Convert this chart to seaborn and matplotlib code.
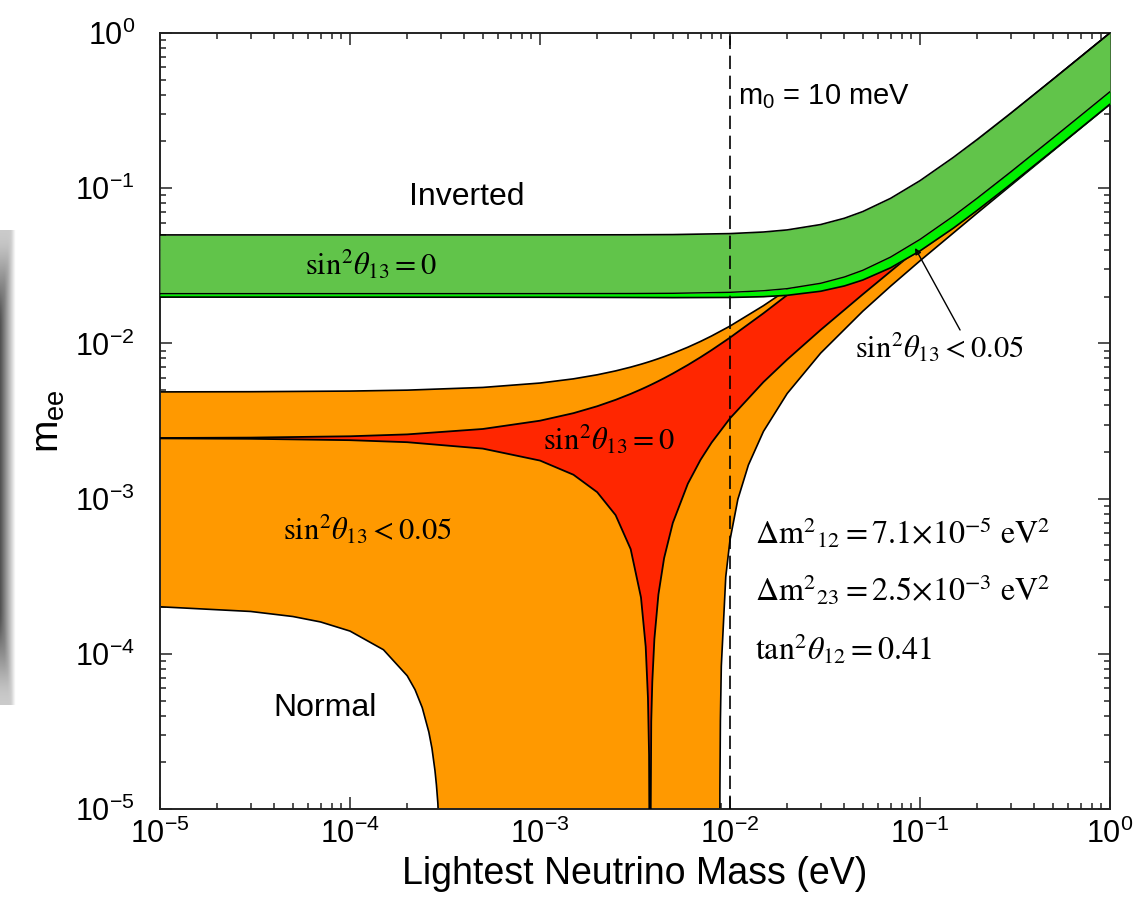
import numpy as np
import matplotlib.pyplot as plt
import seaborn as sns

# Values (eV), log-log plot of m_ee vs lightest mass

# normal ordering, common x grid
m_normal = [1e-5, 3e-5, 1e-4, 2e-4, 5e-4, 1e-3, 1.5e-3, 2e-3, 2.5e-3, 3e-3,
            3.4e-3, 3.6e-3, 3.7e-3, 3.75e-3, 3.79e-3, 3.85e-3, 3.9e-3, 4e-3,
            4.2e-3, 4.5e-3, 5e-3, 6e-3, 7e-3, 8e-3, 1e-2, 1.5e-2, 2e-2, 3e-2,
            5e-2, 0.1, 0.2, 0.5, 1.0]
red_upper = [0.0024573, 0.0024715, 0.0025212, 0.0025926, 0.0028091, 0.0031766,
             0.0035525, 0.0039367, 0.0043288, 0.0047285, 0.0050534, 0.0052176,
             0.0053001, 0.0053415, 0.0053745, 0.0054243, 0.0054659, 0.0055491,
             0.0057164, 0.0059692, 0.0063952, 0.0072631, 0.0081498, 0.0090524,
             0.0108947, 0.0156412, 0.0204952, 0.0303376, 0.050205, 0.1001029,
             0.2000515, 0.500021, 1.00001]
red_lower = [0.0024431, 0.0024289, 0.0023794, 0.0023090, 0.0020999, 0.0017582,
             0.0014249, 0.0010999, 0.0007826, 0.0004731, 0.0002308, 0.0001112,
             0.0000519, 0.0000223, 0.0000013, 0.0000367, 0.0000661, 0.0001247,
             0.000241, 0.0004138, 0.000697, 0.0012475, 0.0017792, 0.0022952,
             0.0032897, 0.0056354, 0.0078736, 0.0122156, 0.020717, 0.0417411,
             0.0836365, 0.209199, 0.41843]
orange_upper = [0.0048697, 0.0048832, 0.0049304, 0.0049983, 0.005204, 0.0055536,
                0.0059113, 0.0062771, 0.0066508, 0.0070318, 0.0073417, 0.0074981,
                0.0075766, 0.007616, 0.0076475, 0.007695, 0.0077346, 0.0078148,
                0.0079746, 0.0082159, 0.008623, 0.0094529, 0.0103016, 0.0111664,
                0.0129341, 0.017503, 0.0221958, 0.0317665, 0.0512554, 0.1007038,
                0.200365, 0.500148, 1.000074]

# lower edge of the orange band has its own x grid (drops to zero in the middle)
m_orange_low = [1e-5, 3e-5, 5e-5, 7e-5, 1e-4, 1.5e-4, 2e-4, 2.2e-4, 2.4e-4, 2.6e-4,
                2.7e-4, 2.8e-4, 2.85e-4, 2.9e-4, 3e-4, 3.05e-4, 8.8e-3, 8.85e-3,
                8.9e-3, 9e-3, 9.5e-3, 1e-2, 1.1e-2, 1.25e-2, 1.5e-2, 2e-2, 3e-2,
                5e-2, 7e-2, 0.1, 0.2, 0.3, 0.5, 0.7, 1.0]
orange_lower = [2.009e-4, 1.874e-4, 1.739e-4, 1.604e-4, 1.401e-4, 1.062e-4, 7.22e-5,
                5.87e-5, 4.50e-5, 3.13e-5, 2.46e-5, 1.77e-5, 1.43e-5, 1.09e-5, 4.1e-6,
                1e-7, 1e-7, 1.36e-5, 3.69e-5, 8.31e-5, 3.135e-4, 5.412e-4, 9.896e-4,
                1.6466e-3, 2.7098e-3, 4.7546e-3, 8.6591e-3, 1.61206e-2, 2.33651e-2,
                3.40482e-2, 6.91387e-2, 0.1040106, 0.173612, 0.243158, 0.347455]

# inverted ordering
m_inverted = [1e-5, 1e-3, 3e-3, 5e-3, 1e-2, 1.5e-2, 2e-2, 3e-2, 4e-2, 5e-2, 7e-2,
              0.1, 0.15, 0.2, 0.3, 0.5, 0.7, 1.0]
green_upper = [0.05, 0.05001, 0.05009, 0.050249, 0.05099, 0.052202, 0.053852,
               0.05831, 0.064031, 0.070711, 0.086023, 0.111803, 0.158114,
               0.206155, 0.304138, 0.502494, 0.701783, 1.00125]
green_lower = [0.020922, 0.020926, 0.02096, 0.021026, 0.021336, 0.021843, 0.022534,
               0.024399, 0.026793, 0.029588, 0.035995, 0.046783, 0.066161,
               0.086263, 0.127264, 0.210264, 0.293654, 0.418963]
lime_lower = [0.019875, 0.019829, 0.019761, 0.019724, 0.019769, 0.02000, 0.020406,
              0.021678, 0.023452, 0.025608, 0.030694, 0.039442, 0.05535, 0.071947,
              0.105895, 0.174741, 0.243959, 0.347997]

m0_line = 0.01

sns.set_style('ticks')
plt.rcParams['font.family'] = ['Liberation Sans', 'DejaVu Sans']
plt.rcParams['mathtext.fontset'] = 'custom'
plt.rcParams['mathtext.rm'] = 'Liberation Sans'
plt.rcParams['mathtext.it'] = 'Liberation Sans:italic'
plt.rcParams['mathtext.bf'] = 'Liberation Sans:bold'
plt.rcParams['axes.linewidth'] = 1.4
plt.rcParams['axes.edgecolor'] = '#222222'
plt.rcParams['text.color'] = 'black'
plt.rcParams['axes.labelcolor'] = 'black'
plt.rcParams['xtick.color'] = 'black'
plt.rcParams['ytick.color'] = 'black'

fig = plt.figure(figsize=(11.37, 9.01), dpi=100)
ax = fig.add_axes([160/1137, 1-809/901, 950/1137, 776/901])
ax.set_xscale('log')
ax.set_yscale('log')

ORANGE = '#ff9900'
RED = '#ff2600'
GREEN = '#61c44a'
LIME = '#00f000'

# orange band (normal, sin^2 theta13 < 0.05)
poly_x = list(m_normal) + list(m_orange_low[::-1])
poly_y = list(orange_upper) + list(orange_lower[::-1])
ax.fill(poly_x, poly_y, color=ORANGE, lw=0, zorder=1)
sns.lineplot(x=m_normal, y=orange_upper, color='black', lw=1.2, ax=ax, zorder=2)
sns.lineplot(x=m_orange_low, y=orange_lower, color='black', lw=1.2, ax=ax, zorder=2)

# red band (normal, sin^2 theta13 = 0)
ax.fill_between(m_normal, red_lower, red_upper, color=RED, lw=0, zorder=3)
sns.lineplot(x=m_normal, y=red_upper, color='black', lw=1.3, ax=ax, zorder=4)
sns.lineplot(x=m_normal, y=red_lower, color='black', lw=1.3, ax=ax, zorder=4)

# inverted bands
ax.fill_between(m_inverted, lime_lower, green_lower, color=LIME, lw=0, zorder=5)
ax.fill_between(m_inverted, green_lower, green_upper, color=GREEN, lw=0, zorder=6)
sns.lineplot(x=m_inverted, y=green_upper, color='black', lw=1.2, ax=ax, zorder=7)
sns.lineplot(x=m_inverted, y=green_lower, color='black', lw=1.0, ax=ax, zorder=7)
sns.lineplot(x=m_inverted, y=lime_lower, color='black', lw=1.2, ax=ax, zorder=7)

ax.axvline(m0_line, color='black', lw=1.2, ls=(0, (8, 4)), zorder=8)

ax.set_xlim(1e-5, 1)
ax.set_ylim(1e-5, 1)
ax.tick_params(which='both', direction='in', top=True, right=True,
               width=1.1, color='#222222')
ax.tick_params(which='major', length=8.5, labelsize=22)
ax.tick_params(which='minor', length=4.3)
ax.tick_params(axis='x', which='major', pad=7)
ax.tick_params(axis='y', which='major', pad=18)

ax.set_xlabel('Lightest Neutrino Mass (eV)', fontsize=27, labelpad=4)
ax.set_ylabel(r'm$_{\mathrm{ee}}$', fontsize=28, labelpad=6)

# labels
ax.text(4.13e-4, 0.0878, 'Inverted', fontsize=23, ha='center', va='center', zorder=9)
ax.text(7.38e-5, 4.48e-5, 'Normal', fontsize=23, ha='center', va='center', zorder=9)
ax.text(0.0110, 0.387, r'm$_0$ = 10 meV', fontsize=21, ha='left', va='center', zorder=9)

serif = dict(math_fontfamily='stix', fontsize=22, zorder=9)
ax.text(1.29e-4, 0.032, r'$\mathrm{sin}^2\theta_{13} = 0$', ha='center', va='center', **serif)
ax.text(0.00231, 0.00239, r'$\mathrm{sin}^2\theta_{13} = 0$', ha='center', va='center', **serif)
ax.text(1.24e-4, 6.28e-4, r'$\mathrm{sin}^2\theta_{13} < 0.05$', ha='center', va='center', **serif)
ax.text(0.127, 0.0093, r'$\mathrm{sin}^2\theta_{13} < 0.05$', ha='center', va='center', **serif)
ax.annotate('', xy=(0.0942, 0.0412), xytext=(0.1625, 0.0122), zorder=9,
            arrowprops=dict(arrowstyle='-|>', color='black', lw=1.0, mutation_scale=9,
                            fc='none', shrinkA=0, shrinkB=0))

serif['fontsize'] = 23
ax.text(0.01355, 6.0e-4, r'$\Delta\mathrm{m}^2{}_{12} = 7.1{\times}10^{-5}\ \mathrm{eV}^2$',
        ha='left', va='center', **serif)
ax.text(0.01355, 2.58e-4, r'$\Delta\mathrm{m}^2{}_{23} = 2.5{\times}10^{-3}\ \mathrm{eV}^2$',
        ha='left', va='center', **serif)
ax.text(0.01355, 1.06e-4, r'$\mathrm{tan}^2\theta_{12} = 0.41$',
        ha='left', va='center', **serif)

# screenshot shadow on the left edge
sh = fig.add_axes([0, 1-705/901, 16/1137, 475/901])
grad = np.linspace(0.32, 1.0, 16)[None, :].repeat(20, axis=0)
grad[:3] = np.maximum(grad[:3], np.array([0.8, 0.65, 0.5])[:, None])
grad[-3:] = np.maximum(grad[-3:], np.array([0.5, 0.65, 0.8])[:, None])
sh.imshow(grad, cmap='gray', vmin=0, vmax=1, aspect='auto', interpolation='bicubic')
sh.axis('off')

fig.savefig('out.png', dpi=100)
